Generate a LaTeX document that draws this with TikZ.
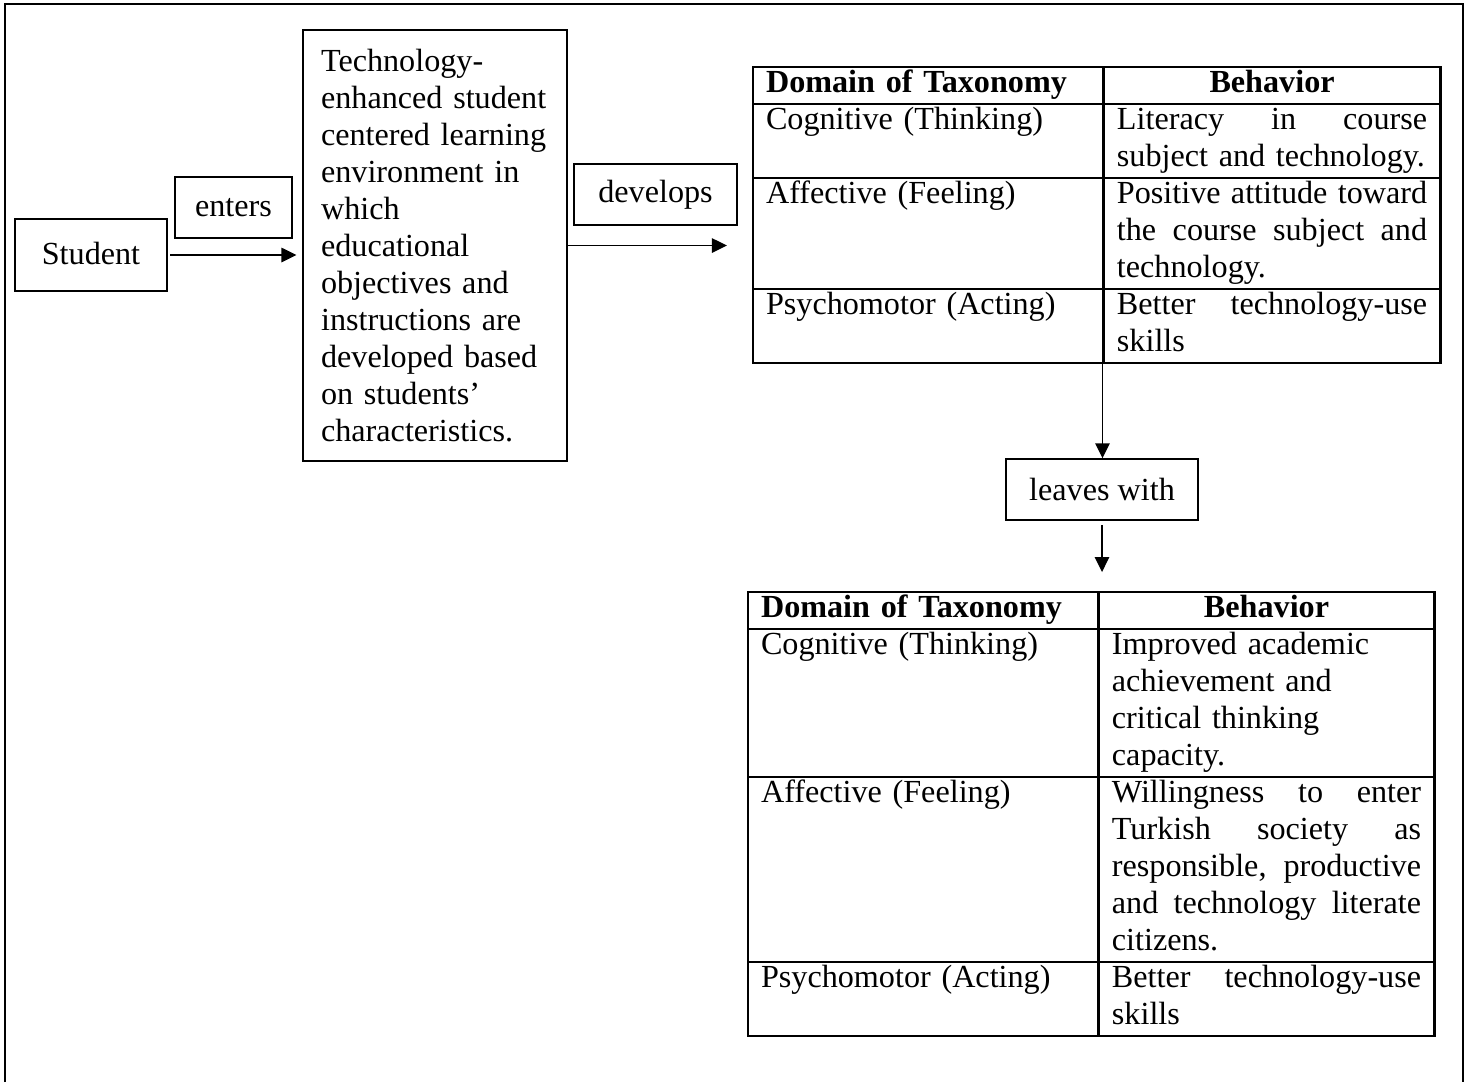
\documentclass[tikz,border=0pt]{standalone}
\usepackage{fontspec}
\setmainfont{Liberation Serif}
\usetikzlibrary{arrows.meta}

\begin{document}
\begin{tikzpicture}[x=0.373pt, y=-0.373pt, every node/.style={font=\fontsize{12}{13.8}\selectfont}]
    \tikzstyle{box} = [draw, line width=0.5pt, inner sep=0pt]
    \tikzstyle{cell} = [draw, line width=0.8pt, inner xsep=5pt, inner ysep=0pt, text height=9.66pt, align=left]
    \tikzstyle{arr} = [line width=0.55pt, -{Triangle[length=5.6pt,width=5.4pt]}]
    \useasboundingbox (0,0) rectangle (1469,1082);
    \draw[line width=1pt] (5,1082) |- (1463,4) -- (1463,1082);

    \node[box, minimum width=56.7pt, minimum height=26.9pt] (student) at (91,255) {\raisebox{1.5pt}{Student}};
    \node[box, minimum width=43.6pt, minimum height=22.8pt] (enters) at (233.5,207.5) {enters};
    \node[box, text width=85pt, inner xsep=6.75pt, align=left, minimum height=160.8pt] (tech) at (435,245.5)
        {Technology-\\enhanced student\\centered learning\\environment in\\which\\educational\\objectives and\\instructions are\\developed based\\on students'\\characteristics.};
    \node[box, minimum width=60.8pt, minimum height=22.8pt] (develops) at (655.5,194.5) {develops};

    \matrix (tabone) [anchor=north west, inner sep=0pt, row sep=-0.8pt, column sep=-0.8pt, nodes={cell},
    column 1/.style={nodes={text width=120.9pt}},
    column 2/.style={nodes={text width=115.7pt}},
    row 1 column 2/.style={nodes={align=center}},
    row 1/.style={nodes={text depth=4.14pt}},
    row 2/.style={nodes={text depth=17.94pt}},
    row 3/.style={nodes={text depth=31.74pt}},
    row 4/.style={nodes={text depth=17.94pt}}] at (751,65) {
    \node (t1dom) {\textbf{Domain of Taxonomy}}; & \node (t1beh) {\textbf{Behavior}}; \\
    \node (t1cog) {Cognitive (Thinking)}; & \node (t1cogb) {Literacy\hfill in\hfill course\\subject and technology.}; \\
    \node (t1aff) {Affective (Feeling)}; & \node (t1affb) {Positive\hfill attitude\hfill toward\\the\hfill course\hfill subject\hfill and\\technology.}; \\
    \node (t1psy) {Psychomotor (Acting)}; & \node (t1psyb) {Better\hfill technology-use\\skills}; \\
    };

    \node[box, minimum width=71.6pt, minimum height=22.8pt] (leaves) at (1102,489.5) {leaves with};

    \matrix (tabtwo) [anchor=north west, inner sep=0pt, row sep=-0.8pt, column sep=-0.8pt, nodes={cell},
    column 1/.style={nodes={text width=120.9pt}},
    column 2/.style={nodes={text width=115.3pt}},
    row 1 column 2/.style={nodes={align=center}},
    row 1/.style={nodes={text depth=4.14pt}},
    row 2/.style={nodes={text depth=45.54pt}},
    row 3/.style={nodes={text depth=59.34pt}},
    row 4/.style={nodes={text depth=17.94pt}}] at (746,590) {
    \node (t2dom) {\textbf{Domain of Taxonomy}}; & \node (t2beh) {\textbf{Behavior}}; \\
    \node (t2cog) {Cognitive (Thinking)}; & \node (t2cogb) {Improved academic\\achievement and\\critical thinking\\capacity.}; \\
    \node (t2aff) {Affective (Feeling)}; & \node (t2affb) {Willingness\hfill to\hfill enter\\Turkish\hfill society\hfill as\\responsible,\hfill productive\\and\hfill technology\hfill literate\\citizens.}; \\
    \node (t2psy) {Psychomotor (Acting)}; & \node (t2psyb) {Better\hfill technology-use\\skills}; \\
    };

    \draw[arr, shorten <=1pt, shorten >=2.2pt] (student.east) -- (student.east -| tech.west);
    \draw[arr, shorten >=9pt] (tech.east) -- (tech.east -| tabone.west);
    \draw[arr] (t1psyb.south west) -- (t1psyb.south west |- leaves.north);
    \draw[arr, shorten <=1.5pt, shorten >=6.7pt] (leaves.south) -- (leaves.south |- tabtwo.north);
\end{tikzpicture}
\end{document}
